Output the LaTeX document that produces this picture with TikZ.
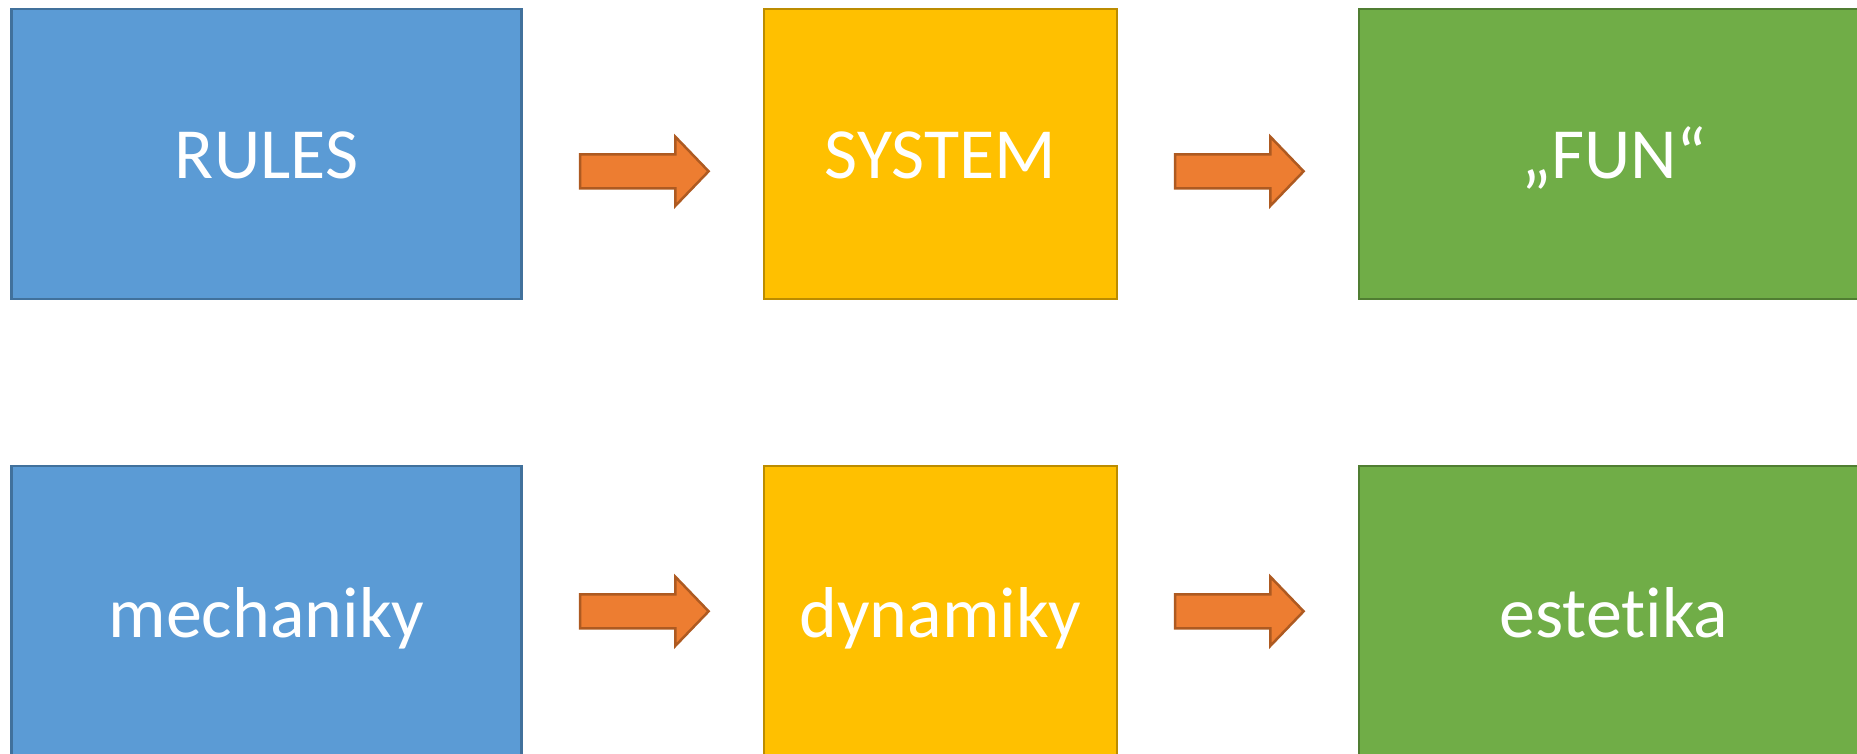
\documentclass[tikz,border=0pt]{standalone}
\usepackage{fontspec}
\setmainfont{Carlito}[Ligatures={NoCommon,NoRequired,NoContextual}]
\definecolor{bluefill}{HTML}{5B9BD5}
\definecolor{blueline}{HTML}{41719C}
\definecolor{yelfill}{HTML}{FFC000}
\definecolor{yelline}{HTML}{BC8C00}
\definecolor{grnfill}{HTML}{70AD47}
\definecolor{grnline}{HTML}{507E32}
\definecolor{orfill}{HTML}{ED7D31}
\definecolor{orline}{HTML}{AE5A21}
\begin{document}
\begin{tikzpicture}[x=1pt,y=-1pt,
  boxbase/.style={rectangle, line width=2.5pt, minimum height=290pt, inner sep=0pt, outer sep=0pt},
  bluebox/.style={boxbase, fill=bluefill, draw=blueline, minimum width=510pt},
  yelbox/.style={boxbase, fill=yelfill, draw=yelline, minimum width=353pt},
  grnbox/.style={boxbase, fill=grnfill, draw=grnline, minimum width=510pt},
  lbl/.style={anchor=base, text=white, font=\fontsize{72}{86}\selectfont, inner sep=0pt},
  blockarrow/.style={fill=orfill, draw=orline, line width=2.5pt, line join=miter}
]
\useasboundingbox (0,0) rectangle (1857,754);
\clip (0,0) rectangle (1857,754);
% top row
\node[bluebox] (r1) at (266.5,154) {};
\node[yelbox]  (s1) at (940.5,154) {};
\node[grnbox]  (f1) at (1614,154) {};
% bottom row
\node[bluebox] (m2) at (266.5,611) {};
\node[yelbox]  (d2) at (940.5,611) {};
\node[grnbox]  (e2) at (1614,611) {};
% labels
\node[lbl] (t1) at ([yshift=-25pt]r1.center) {RULES};
\node[lbl] (t2) at ([yshift=-25pt]s1.center) {SYSTEM};
\node[lbl] (t3) at ([yshift=-25pt]f1.center) {„FUN“};
\node[lbl] (t4) at ([yshift=-26.5pt]m2.center) {mechaniky};
\node[lbl] (t5) at ([yshift=-26.5pt]d2.center) {dynamiky};
\node[lbl] (t6) at ([yshift=-26.5pt]e2.center) {estetika};
% block arrows
\foreach \ax/\ay in {580/171.3, 1175/171.3, 580/611.3, 1175/611.3}{
  \path[blockarrow] (\ax,\ay-17) -- ++(95.3,0) -- ++(0,-17.6) -- ++(33.3,34.6)
    -- ++(-33.3,34.6) -- ++(0,-17.6) -- ++(-95.3,0) -- cycle;
}
\end{tikzpicture}
\end{document}
